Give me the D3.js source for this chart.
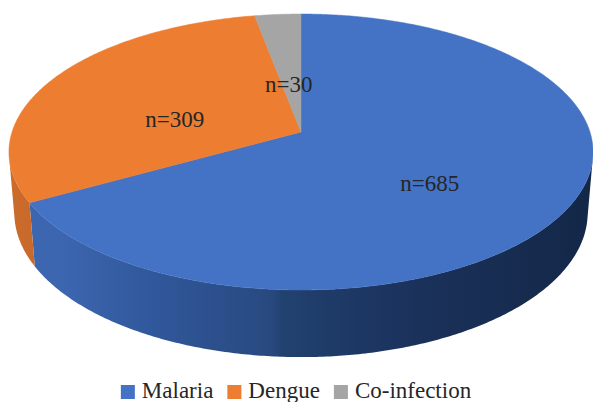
<!DOCTYPE html>
<html>
<head>
<meta charset="utf-8">
<script src="https://cdn.jsdelivr.net/npm/d3@7"></script>
</head>
<body style="margin:0">
<svg id="chart" width="593" height="402"></svg>
<script>
// Case counts by diagnosis
const categories = ["Malaria", "Dengue", "Co-infection"];
const counts = [685, 309, 30];
const labelTexts = ["n=685", "n=309", "n=30"];
const topColors = ["#4472C4", "#ED7D31", "#A5A5A5"];

const svg = d3.select("#chart").style("display", "block");
const FONT = '"Liberation Serif"';

// 3-D view: disc of radius R seen from a camera at distance D, tilted down
const cx = 301, cy = 132;          // projected centre of the top face
const R = 0.164, D = 1;
const tilt = Math.asin(0.4675);
const focal = 1762;
const thick = 0.0395;

function project(theta, r, z) {
  const X = r * Math.sin(theta), Y = r * Math.cos(theta);
  const up = Y * Math.sin(tilt) + z * Math.cos(tilt);
  const d = D + Y * Math.cos(tilt) - z * Math.sin(tilt);
  return [cx + focal * X / d, cy - focal * up / d];
}

const arcs = d3.pie().sort(null).value(d => d)(counts);

function arcPoints(a0, a1, r, z) {
  const n = Math.max(2, Math.ceil(Math.abs(a1 - a0) / 0.01));
  return d3.range(n + 1).map(i => project(a0 + (a1 - a0) * i / n, r, z));
}
const line = d3.line();

// wall shading
const defs = svg.append("defs");
const wallStops = [
  [
    [60, "#3C66B0"], [150, "#31589C"], [272, "#28497F"], [282, "#21426F"],
    [360, "#1D3764"], [450, "#192F56"], [593, "#132848"]
  ],
  [[0, "#CC6D2C"], [70, "#C36529"]],
  [[0, "#868686"], [593, "#868686"]]
];
wallStops.forEach((stops, i) => {
  const g = defs.append("linearGradient")
    .attr("id", "wall" + i)
    .attr("gradientUnits", "userSpaceOnUse")
    .attr("x1", 0).attr("x2", 593).attr("y1", 0).attr("y2", 0);
  stops.forEach(([x, c]) => g.append("stop").attr("offset", x / 593).attr("stop-color", c));
});

// visible outer wall: normal facing the camera
const thA = Math.acos(-R / (D * Math.cos(tilt)));
const thB = 2 * Math.PI - thA;

const gWalls = svg.append("g");
arcs.forEach((a, i) => {
  const s = Math.max(a.startAngle, thA), e = Math.min(a.endAngle, thB);
  if (e <= s) return;
  const pts = arcPoints(s, e, R, 0).concat(arcPoints(e, s, R, -thick));
  gWalls.append("path")
    .attr("d", line(pts) + "Z")
    .attr("fill", `url(#wall${i})`);
});

// top faces
const gTop = svg.append("g");
arcs.forEach((a, i) => {
  const pts = [project(0, 0, 0)].concat(arcPoints(a.startAngle, a.endAngle, R, 0));
  gTop.append("path")
    .attr("d", line(pts) + "Z")
    .attr("fill", topColors[i])
    .attr("stroke", topColors[i])
    .attr("stroke-width", 0.5);
});

// value labels
const gLab = svg.append("g");
arcs.forEach((a, i) => {
  const mid = (a.startAngle + a.endAngle) / 2;
  const [x, y] = project(mid, R * 0.5, -thick * 0.25);
  gLab.append("text")
    .attr("x", x).attr("y", y + 8)
    .attr("text-anchor", "middle")
    .style("font-family", FONT)
    .attr("font-size", 23)
    .attr("fill", "#262626")
    .text(labelTexts[i]);
});

// legend
const gLeg = svg.append("g");
const box = 14, gapIn = 7, gapOut = 14, legY = 398;
let lx = 0;
categories.forEach((c, i) => {
  const g = gLeg.append("g");
  g.append("rect").attr("x", 0).attr("y", legY - 13).attr("width", box).attr("height", box)
    .attr("fill", topColors[i]);
  const t = g.append("text").attr("x", box + gapIn).attr("y", legY)
    .style("font-family", FONT)
    .attr("font-size", 23).attr("fill", "#262626").text(c);
  const w = box + gapIn + t.node().getComputedTextLength();
  g.attr("transform", `translate(${lx},0)`);
  lx += w + gapOut;
});
const total = lx - gapOut;
gLeg.attr("transform", `translate(${296 - total / 2},0)`);
</script>
</body>
</html>
